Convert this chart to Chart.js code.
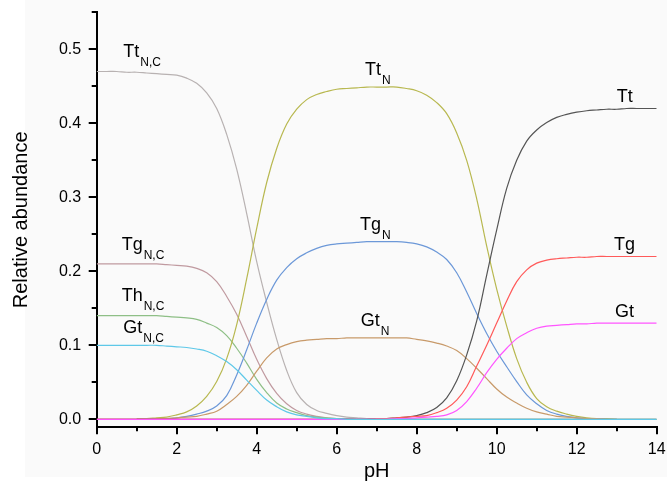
<!DOCTYPE html>
<html><head><meta charset="utf-8">
<script src="https://cdn.jsdelivr.net/npm/chart.js@4.4.0/dist/chart.umd.min.js"></script>
<style>html,body{margin:0;padding:0;background:#fff}#wrap{width:667px;height:489px;position:relative}</style>
</head><body><div id="wrap"><canvas id="c" width="667" height="489"></canvas></div>
<script>
// ---- data ----
const pH = [0,0.25,0.5,0.75,1,1.25,1.5,1.75,2,2.25,2.5,2.75,3,3.25,3.5,3.75,4,4.25,4.5,4.75,5,5.25,5.5,5.75,6,6.25,6.5,6.75,7,7.25,7.5,7.75,8,8.25,8.5,8.75,9,9.25,9.5,9.75,10,10.25,10.5,10.75,11,11.25,11.5,11.75,12,12.25,12.5,12.75,13,13.25,13.5,13.75,14];
const xTicks = [0,2,4,6,8,10,12,14];
const xMinorTicks = [1,3,5,7,9,11,13];
const yTicks = [0,0.1,0.2,0.3,0.4,0.5];
const yMinorTicks = [0.05,0.15,0.25,0.35,0.45,0.55];

const TtNC = [0.470,0.470,0.470,0.469,0.469,0.468,0.467,0.466,0.465,0.461,0.454,0.441,0.420,0.385,0.338,0.278,0.213,0.158,0.108,0.066,0.036,0.020,0.012,0.008,0.005,0.003,0.002,0.001,0.001,
  0,0,0,0,0,0,0,0,0,0,0,0,0,0,0,0,0,0,0,0,0,0,0,0,0,0,0,0];
const TgNC = [0.210,0.210,0.210,0.210,0.210,0.210,0.210,0.209,0.208,0.207,0.204,0.198,0.186,0.166,0.142,0.112,0.081,0.055,0.035,0.021,0.012,0.007,0.004,0.002,0.001,0.001,
  0,0,0,0,0,0,0,0,0,0,0,0,0,0,0,0,0,0,0,0,0,0,0,0,0,0,0,0,0,0,0];
const ThNC = [0.140,0.140,0.140,0.140,0.140,0.140,0.140,0.139,0.138,0.137,0.135,0.130,0.124,0.113,0.096,0.076,0.054,0.036,0.022,0.014,0.009,0.005,0.003,0.002,0.001,0.001,
  0,0,0,0,0,0,0,0,0,0,0,0,0,0,0,0,0,0,0,0,0,0,0,0,0,0,0,0,0,0,0];
const GtNC = [0.100,0.100,0.100,0.100,0.100,0.100,0.100,0.099,0.098,0.097,0.095,0.092,0.086,0.078,0.067,0.053,0.039,0.026,0.017,0.010,0.006,0.004,0.002,0.001,0.001,
  0,0,0,0,0,0,0,0,0,0,0,0,0,0,0,0,0,0,0,0,0,0,0,0,0,0,0,0,0,0,0,0];
const TtN  = [null,null,null,null,0.001,0.001,0.002,0.003,0.006,0.010,0.018,0.031,0.051,0.082,0.128,0.190,0.258,0.320,0.366,0.399,0.419,0.432,0.439,0.443,0.446,0.447,0.448,0.449,0.449,0.449,0.449,0.447,
  0.444,0.438,0.428,0.413,0.387,0.350,0.298,0.234,0.176,0.126,0.082,0.050,0.028,0.017,0.011,0.007,0.004,0.002,0.001,0.001,0,null,null,null,null];
const TgN  = [null,null,null,null,0,0,0.001,0.001,0.002,0.004,0.007,0.011,0.018,0.032,0.060,0.094,0.130,0.162,0.188,0.205,0.217,0.225,0.231,0.235,0.237,0.238,0.239,0.240,0.240,0.240,0.240,0.239,
  0.237,0.233,0.226,0.216,0.198,0.172,0.143,0.116,0.092,0.071,0.051,0.033,0.021,0.012,0.007,0.004,0.002,0.001,0.001,0,0,null,null,null,null];
const GtN  = [0,0,0,0,0,0,0.001,0.001,0.002,0.003,0.004,0.007,0.011,0.020,0.031,0.046,0.065,0.083,0.095,0.101,0.105,0.107,0.108,0.109,0.109,0.110,0.110,0.110,0.110,0.110,0.110,0.110,
  0.108,0.106,0.103,0.099,0.093,0.082,0.069,0.055,0.041,0.030,0.022,0.015,0.010,0.007,0.004,0.003,0.002,0.001,0.001,0,0,null,null,null,null];
const Tt   = [0,0,0,0,0,0,0,0,0,0,0,0,0,0,0,0,0,0,0,0,0,0,0,0,0,0,0,0,0.001,0.001,0.002,0.003,
  0.005,0.009,0.016,0.029,0.052,0.087,0.133,0.195,0.256,0.312,0.350,0.376,0.391,0.401,0.408,0.412,0.415,0.417,0.418,0.419,0.419,0.420,0.420,0.420,0.420];
const Tg   = [0,0,0,0,0,0,0,0,0,0,0,0,0,0,0,0,0,0,0,0,0,0,0,0,0,0,0,0,0.001,0.001,0.002,0.003,
  0.004,0.005,0.009,0.015,0.026,0.044,0.072,0.100,0.130,0.160,0.186,0.202,0.211,0.215,0.217,0.218,0.219,0.219,0.220,0.220,0.220,0.220,0.220,0.220,0.220];
const Gt   = [0,0,0,0,0,0,0,0,0,0,0,0,0,0,0,0,0,0,0,0,0,0,0,0,0,0,0,0,0,0,0.001,0.001,
  0.002,0.003,0.004,0.006,0.012,0.024,0.042,0.063,0.081,0.096,0.109,0.117,0.123,0.126,0.127,0.128,0.129,0.129,0.130,0.130,0.130,0.130,0.130,0.130,0.130];

// curve labels: main text, subscript, anchor in data units (pH, abundance)
const curveLabels = [
  {main:'Tt', sub:'N,C', x:0.665, y:0.490},
  {main:'Tg', sub:'N,C', x:0.625, y:0.2288},
  {main:'Th', sub:'N,C', x:0.625, y:0.1599},
  {main:'Gt', sub:'N,C', x:0.665, y:0.1162},
  {main:'Tt', sub:'N',   x:6.71,  y:0.4653},
  {main:'Tg', sub:'N',   x:6.58,  y:0.2558},
  {main:'Gt', sub:'N',   x:6.60,  y:0.1261},
  {main:'Tt', sub:'',    x:13.0,  y:0.4292},
  {main:'Tg', sub:'',    x:12.93, y:0.2288},
  {main:'Gt', sub:'',    x:12.96, y:0.1386}
];

const FONT = '"Liberation Sans", Arial, sans-serif';

function series(arr){ return pH.map((x,i)=>({x:x, y:arr[i]})); }
function ds(label, arr, color){
  return {label, data: series(arr), borderColor: color, backgroundColor: color,
    borderWidth: 1.2, pointRadius: 0, tension: 0.4, fill: false, spanGaps: false};
}

const bgPlugin = {
  id:'bg',
  beforeDraw(chart){
    const c = chart.ctx;
    c.save();
    c.fillStyle = '#ffffff'; c.fillRect(0,0,chart.width,chart.height);
    c.fillStyle = '#fafafa'; c.fillRect(25,0,chart.width-25,477);
    c.restore();
  }
};

const decoPlugin = {
  id:'deco',
  afterDraw(chart){
    const c = chart.ctx, xs = chart.scales.x, ys = chart.scales.y;
    c.save();
    c.strokeStyle = '#000'; c.lineWidth = 2;
    const bottom = chart.chartArea.bottom, left = chart.chartArea.left;
    xMinorTicks.forEach(v=>{
      const px = Math.round(xs.getPixelForValue(v));
      c.beginPath(); c.moveTo(px, bottom); c.lineTo(px, bottom+4); c.stroke();
    });
    yMinorTicks.forEach(v=>{
      const py = Math.round(ys.getPixelForValue(v));
      c.beginPath(); c.moveTo(left-5, py); c.lineTo(left, py); c.stroke();
    });
    c.fillStyle = '#000';
    c.textBaseline = 'alphabetic';
    c.textAlign = 'left';
    curveLabels.forEach(l=>{
      const px = xs.getPixelForValue(l.x), py = ys.getPixelForValue(l.y);
      c.font = '18px ' + FONT;
      c.fillText(l.main, px, py);
      const w = c.measureText(l.main).width;
      if (l.sub){
        c.font = '12px ' + FONT;
        c.fillText(l.sub, px + w + 1, py + 9);
      }
    });
    c.restore();
  }
};

new Chart(document.getElementById('c'), {
  type:'line',
  data:{
    datasets:[
      ds('GtN,C', GtNC, '#5ec8e8'),
      ds('Gt', Gt, '#ff55ff'),
      ds('Tg', Tg, '#ff5a5a'),
      ds('Tt', Tt, '#555555'),
      ds('GtN', GtN, '#c89a6a'),
      ds('TgN', TgN, '#6c98d8'),
      ds('TtN', TtN, '#b8b850'),
      ds('ThN,C', ThNC, '#8ebf86'),
      ds('TgN,C', TgNC, '#c09aa0'),
      ds('TtN,C', TtNC, '#b8b2b2')
    ]
  },
  options:{
    responsive:false, animation:false, devicePixelRatio:1,
    layout:{padding:{top:12.3, right:10.3, left:0, bottom:0}},
    plugins:{legend:{display:false}, tooltip:{enabled:false}},
    scales:{
      x:{
        type:'linear', min:0, max:14,
        afterBuildTicks(s){ s.ticks = xTicks.map(v=>({value:v})); },
        afterFit(s){ s.height = 61.7; s.paddingLeft = 0; s.paddingRight = 0; s.paddingTop = 0; s.paddingBottom = 0; },
        grid:{drawOnChartArea:false, drawTicks:true, tickLength:7, color:'#000', lineWidth:2},
        border:{display:true, color:'#000', width:2},
        ticks:{color:'#000', font:{family:FONT, size:16}, padding:6, maxRotation:0, autoSkip:false},
        title:{display:true, text:'pH', color:'#000', font:{family:FONT, size:20}, padding:{top:0, bottom:5.9}}
      },
      y:{
        type:'linear', min:-0.0108, max:0.55,
        afterBuildTicks(s){ s.ticks = yTicks.map(v=>({value:v})); },
        afterFit(s){ s.width = 96.7; s.paddingLeft = 0; s.paddingRight = 0; s.paddingTop = 0; s.paddingBottom = 0; },
        grid:{drawOnChartArea:false, drawTicks:true, tickLength:8, color:'#000', lineWidth:2},
        border:{display:true, color:'#000', width:2},
        ticks:{color:'#000', font:{family:FONT, size:16}, padding:7.5, callback:(v)=>v.toFixed(1)},
        title:{display:true, text:'Relative abundance', color:'#000', font:{family:FONT, size:20}, padding:{top:9.4, bottom:0}}
      }
    }
  },
  plugins:[bgPlugin, decoPlugin]
});
</script>
</body></html>
